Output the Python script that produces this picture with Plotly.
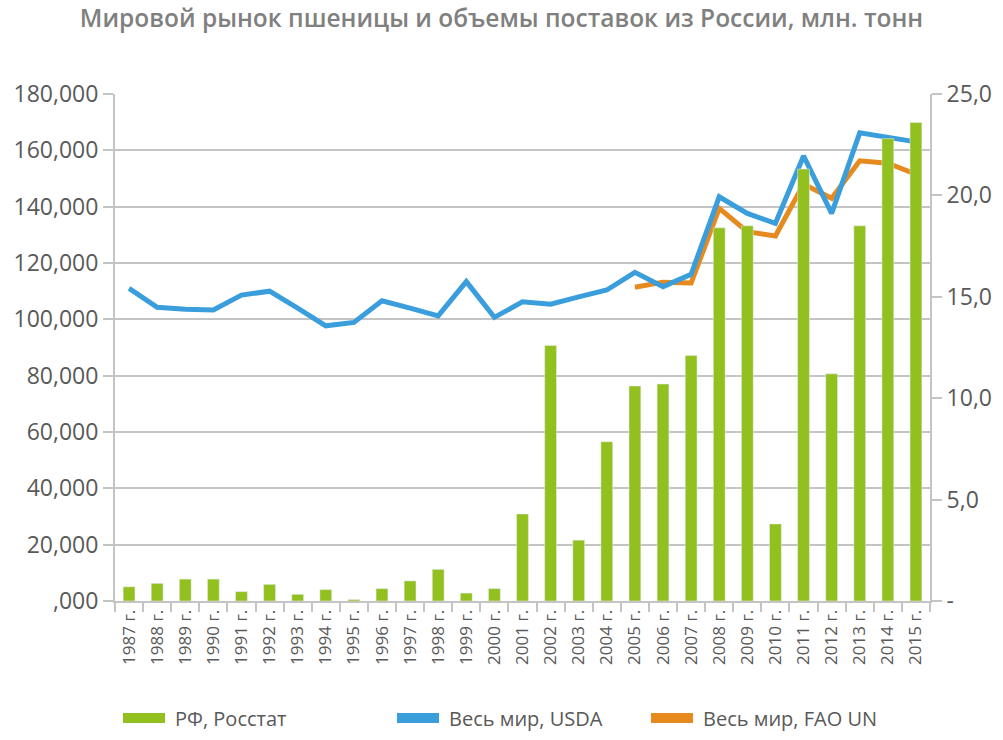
"""World wheat market and Russian export volumes, combo bar/line chart."""

import plotly.graph_objects as go

years = [f"{y} г." for y in range(1987, 2016)]

# Russian exports, Rosstat (million tonnes, right axis)
rf_rosstat = [
    0.70, 0.87, 1.08, 1.08, 0.46, 0.82, 0.33, 0.56, 0.07, 0.61,
    0.99, 1.56, 0.39, 0.61, 4.29, 12.6, 3.00, 7.85, 10.6, 10.7,
    12.1, 18.4, 18.5, 3.80, 21.3, 11.2, 18.5, 22.8, 23.6,
]

# World trade, USDA (thousand tonnes, left axis)
world_usda = [
    111000, 104300, 103600, 103300, 108600, 110000, 104000, 97700, 98900, 106600,
    104000, 101200, 113400, 100700, 106200, 105400, 108000, 110400, 116700, 111600,
    116000, 143500, 137600, 134100, 158000, 137600, 166200, 164800, 163000,
]

# World trade, FAO UN (thousand tonnes, left axis), from 2005 only
world_fao = [None] * 18 + [
    111400, 113200, 112900, 139400, 131100, 129600, 148000, 143000, 156300, 155400, 151500,
]

left_ticks = list(range(0, 180001, 20000))
left_labels = [",000"] + [f"{v:,}" for v in left_ticks[1:]]
right_ticks = [0, 5, 10, 15, 20, 25]
right_labels = ["-", "5,0", "10,0", "15,0", "20,0", "25,0"]

GREEN = "#92c01f"
BLUE = "#3a9ddc"
ORANGE = "#e68a1e"
GRID = "#c4c4c4"
TEXT = "#595959"
FONT = "Open Sans"

fig = go.Figure()
fig.add_trace(go.Bar(
    x=years, y=rf_rosstat, name="РФ, Росстат", marker_color=GREEN,
    yaxis="y2", showlegend=False,
))
fig.add_trace(go.Scatter(
    x=years, y=world_fao, name="Весь мир, FAO UN", mode="lines",
    line=dict(color=ORANGE, width=5), showlegend=False,
))
fig.add_trace(go.Scatter(
    x=years, y=world_usda, name="Весь мир, USDA", mode="lines",
    line=dict(color=BLUE, width=5), showlegend=False,
))

fig.update_layout(
    width=1003,
    height=740,
    margin=dict(l=115, r=73, t=94, b=139),
    plot_bgcolor="white",
    paper_bgcolor="white",
    font=dict(family=FONT, color=TEXT),
    bargap=0.58,
    title=dict(
        text="Мировой рынок пшеницы и объемы поставок из России, млн. тонн",
        x=0.5, xanchor="center", y=1 - 18 / 740, yanchor="middle",
        font=dict(family=FONT, size=24.5, color="#808080", weight=600),
    ),
    xaxis=dict(
        type="category",
        tickangle=-90,
        tickfont=dict(size=17, color=TEXT),
        showline=True, linecolor=GRID, linewidth=2,
        ticks="outside", tickson="boundaries", ticklen=9, tickcolor=GRID, tickwidth=2,
        showgrid=False,
    ),
    yaxis=dict(
        range=[0, 180000],
        tickvals=left_ticks, ticktext=left_labels,
        tickfont=dict(size=23, color=TEXT),
        showgrid=True, gridcolor=GRID, gridwidth=2,
        showline=True, linecolor=GRID, linewidth=2,
        ticks="outside", ticklen=10, tickcolor=GRID, tickwidth=2,
        zeroline=False,
    ),
    yaxis2=dict(
        range=[0, 25], overlaying="y", side="right",
        tickvals=right_ticks, ticktext=right_labels,
        tickfont=dict(size=23, color=TEXT),
        showgrid=False, zeroline=False,
        showline=True, linecolor=GRID, linewidth=2,
        ticks="outside", ticklen=10, tickcolor=GRID, tickwidth=2,
    ),
)

# Legend drawn as swatches and labels below the plot, in the original layout
legend_items = [
    ("РФ, Росстат", GREEN, 123),
    ("Весь мир, USDA", BLUE, 397),
    ("Весь мир, FAO UN", ORANGE, 651),
]
for label, color, x0 in legend_items:
    fig.add_shape(
        type="rect", xref="paper", yref="paper",
        x0=(x0 - 115) / 815, x1=(x0 + 42 - 115) / 815,
        y0=(601 - 723) / 507, y1=(601 - 713) / 507,
        fillcolor=color, line_width=0,
    )
    fig.add_annotation(
        text=label, xref="paper", yref="paper",
        x=(x0 + 50 - 115) / 815, y=(601 - 718) / 507,
        xanchor="left", yanchor="middle", showarrow=False,
        font=dict(family=FONT, size=20, color=TEXT),
    )

# drop the default body margin so the figure fills the window exactly
fig.write_html(
    "out.html",
    config={"displayModeBar": False},
    post_script="document.body.style.margin='0'; document.body.style.overflow='hidden';",
)
